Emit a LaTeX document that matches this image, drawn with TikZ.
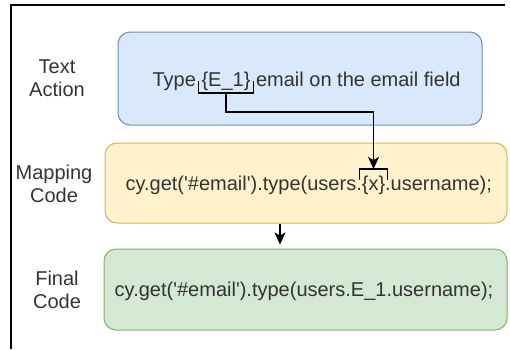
\documentclass[tikz,border=0pt]{standalone}
\usepackage{fontspec}
\setmainfont{Liberation Sans}
\usetikzlibrary{arrows.meta,calc}
\definecolor{blueFill}{HTML}{DAE8FC}
\definecolor{blueLine}{HTML}{6C8EBF}
\definecolor{yelFill}{HTML}{FFF2CC}
\definecolor{yelLine}{HTML}{D6B656}
\definecolor{grnFill}{HTML}{D5E8D4}
\definecolor{grnLine}{HTML}{82B366}
\definecolor{ink}{HTML}{333333}
\newcommand{\sq}{\textquotesingle}
\tikzset{
  panel/.style={draw, line width=1pt, rounded corners=12pt},
  word/.style={inner sep=0pt, outer sep=0pt, text=ink,
    font=\fontsize{20}{23}\selectfont},
  tag/.style={align=center, text=ink, inner sep=0pt,
    font=\fontsize{20}{23}\selectfont},
  arr/.style={line width=1.3pt, -{Stealth[length=12pt,width=11pt,inset=3pt]}},
  brk/.style={line width=1.3pt},
  frameline/.style={line width=1.6pt}
}
\begin{document}
\begin{tikzpicture}[x=1pt,y=-1pt]
\useasboundingbox (0,0) rectangle (510,349);

% outer frame (left and top edges)
\coordinate (fb) at (11,349);
\coordinate (fc) at (11,5);
\coordinate (fr) at (505,5);
\draw[frameline] (fb) -- (fc) -- (fr);

% panels
\node[panel, fill=blueFill, draw=blueLine, minimum width=364pt, minimum height=93pt]
  (txt) at (300,78.5) {};
\node[panel, fill=yelFill, draw=yelLine, minimum width=402pt, minimum height=80pt]
  (yel) at (306,183) {};
\node[panel, fill=grnFill, draw=grnLine, minimum width=403pt, minimum height=81pt]
  (grn) at (305.5,289.5) {};

% row labels
\node[tag] (l1) at (57,78.5) {Text\\Action};
\node[tag] (l2) at (54,183.5) {Mapping\\Code};
\node[tag] (l3) at (57,289.5) {Final\\Code};

% text action sentence
\node[word, anchor=base] (e1) at (226,86) {\{E\_1\}};
\node[word, anchor=base east] (ty) at ($(e1.base west)+(-5.6,0)$) {Type};
\node[word, anchor=base west] (em) at ($(e1.base east)+(5.6,0)$) {email on the email field};

% mapping code line
\node[word, anchor=base] (xv) at (373.5,190) {\{x\}};
\node[word, anchor=base east] (mc1) at (xv.base west) {cy.get(\sq\#email\sq).type(users.};
\node[word, anchor=base west] (mc2) at (xv.base east) {.username);};

% final code line
\node[word] (fin) at (304,291) {cy.get(\sq\#email\sq).type(users.E\_1.username);};

% bracket under {E_1}
\coordinate (ea) at ($(e1.base west)+(-3,-5)$);
\coordinate (eb) at ($(e1.base west)+(-3,7)$);
\coordinate (ec) at ($(e1.base east)+(3,7)$);
\coordinate (ed) at ($(e1.base east)+(3,-5)$);
\coordinate (emid) at ($(eb)!0.5!(ec)$);
\draw[brk] (ea) -- (eb) -- (ec) -- (ed);

% bracket over {x}
\coordinate (xa) at ($(xv.base west)+(-2,-10)$);
\coordinate (xb) at ($(xv.base west)+(-2,-21)$);
\coordinate (xc) at ($(xv.base east)+(2,-21)$);
\coordinate (xd) at ($(xv.base east)+(2,-10)$);
\coordinate (xmid) at ($(xb)!0.5!(xc)$);
\draw[brk] (xa) -- (xb) -- (xc) -- (xd);

% connectors
\draw[arr] (emid) -- ++(0,19) -| (xmid);
\coordinate (down) at (280,0);
\draw[arr, shorten >=4pt] (yel.south -| down) -- (grn.north -| down);
\end{tikzpicture}
\end{document}
